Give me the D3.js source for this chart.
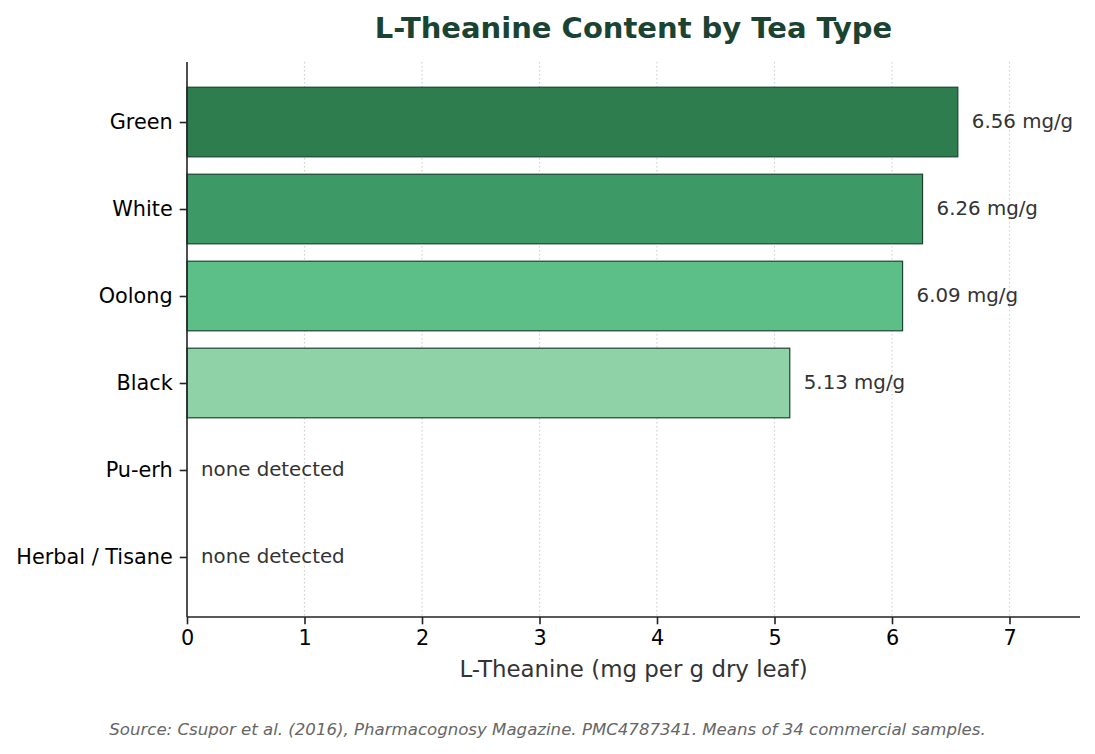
<!DOCTYPE html>
<html>
<head>
<meta charset="utf-8">
<script src="https://cdn.jsdelivr.net/npm/d3@7"></script>
<style>
    body { margin: 0; background: #fff; }
    text { font-family: "DejaVu Sans", sans-serif; }
</style>
</head>
<body>
<div id="chart"></div>
<script>
const width = 1095;
const height = 754;

const teaTypes = ["Green", "White", "Oolong", "Black", "Pu-erh", "Herbal / Tisane"];
const theanine = [6.56, 6.26, 6.09, 5.13, 0, 0];
const barColors = ["#2e7d4f", "#3d9a66", "#5cbf87", "#90d2a8", "#cfeedd", "#e6f5ec"];
const xTicks = [0, 1, 2, 3, 4, 5, 6, 7];

const margin = { top: 62, right: 15, bottom: 137, left: 187 };
const innerW = width - margin.left - margin.right;
const innerH = height - margin.top - margin.bottom;

const svg = d3.select("#chart").append("svg")
    .attr("width", width)
    .attr("height", height);

const g = svg.append("g")
    .attr("transform", `translate(${margin.left},${margin.top})`);

const x = d3.scaleLinear().domain([0, 7.6]).range([0, innerW]);

// y: category index with a bit of padding like matplotlib's margins
const y = d3.scaleLinear().domain([-0.69, teaTypes.length - 1 + 0.69]).range([0, innerH]);
const barH = y(0.4) - y(-0.4);

// grid  ////////////////////////////////////////////
g.append("g")
    .selectAll("line")
    .data(xTicks.filter(t => t > 0))
    .join("line")
    .attr("x1", d => x(d)).attr("x2", d => x(d))
    .attr("y1", 0).attr("y2", innerH)
    .attr("stroke", "#d0d0d0")
    .attr("stroke-width", 1.2)
    .attr("stroke-dasharray", "1.5,2.5");

// bars  ////////////////////////////////////////////
g.append("g")
    .selectAll("rect")
    .data(teaTypes)
    .join("rect")
    .attr("x", x(0))
    .attr("y", (d, i) => y(i) - barH / 2)
    .attr("width", (d, i) => x(theanine[i]) - x(0))
    .attr("height", barH)
    .attr("fill", (d, i) => barColors[i])
    .attr("stroke", "#1b4332")
    .attr("stroke-width", 1.2);

// value labels
g.append("g")
    .selectAll("text")
    .data(teaTypes)
    .join("text")
    .attr("x", (d, i) => x(theanine[i]) + 14)
    .attr("y", (d, i) => y(i))
    .attr("dy", "0.3em")
    .attr("fill", "#333")
    .style("font-size", "19.8px")
    .text((d, i) => theanine[i] > 0 ? `${theanine[i].toFixed(2)} mg/g` : "none detected");

// axes  ////////////////////////////////////////////
const xAxis = g.append("g")
    .attr("transform", `translate(0,${innerH})`)
    .call(d3.axisBottom(x).tickValues(xTicks).tickSize(7.3).tickPadding(6).tickSizeOuter(0));

const yAxis = g.append("g")
    .call(d3.axisLeft(y).tickValues(d3.range(teaTypes.length)).tickFormat(i => teaTypes[i])
        .tickSize(7.3).tickPadding(7).tickSizeOuter(0));

[xAxis, yAxis].forEach(a => {
    a.select(".domain").attr("stroke", "#222").attr("stroke-width", 1.6);
    a.selectAll(".tick line").attr("stroke", "#222").attr("stroke-width", 1.6);
    a.selectAll(".tick text").attr("fill", "#000").style("font-size", "20.8px")
        .style("font-family", "DejaVu Sans, sans-serif");
});
// keep axis lines across the full plot
xAxis.select(".domain").attr("d", `M0,0H${innerW}`);
yAxis.select(".domain").attr("d", `M0,0V${innerH}`);

// titles ///////////////////////////////////////////
svg.append("text")
    .attr("x", margin.left + innerW / 2)
    .attr("y", 28)
    .attr("dy", "0.35em")
    .attr("text-anchor", "middle")
    .attr("fill", "#1b4332")
    .style("font-size", "29px")
    .style("font-weight", "bold")
    .text("L-Theanine Content by Tea Type");

svg.append("text")
    .attr("x", margin.left + innerW / 2)
    .attr("y", 669)
    .attr("dy", "0.35em")
    .attr("text-anchor", "middle")
    .attr("fill", "#333")
    .style("font-size", "22.9px")
    .text("L-Theanine (mg per g dry leaf)");

svg.append("text")
    .attr("x", width / 2)
    .attr("y", 729)
    .attr("dy", "0.35em")
    .attr("text-anchor", "middle")
    .attr("fill", "#666")
    .style("font-size", "16.6px")
    .style("font-style", "italic")
    .text("Source: Csupor et al. (2016), Pharmacognosy Magazine. PMC4787341. Means of 34 commercial samples.");
</script>
</body>
</html>
